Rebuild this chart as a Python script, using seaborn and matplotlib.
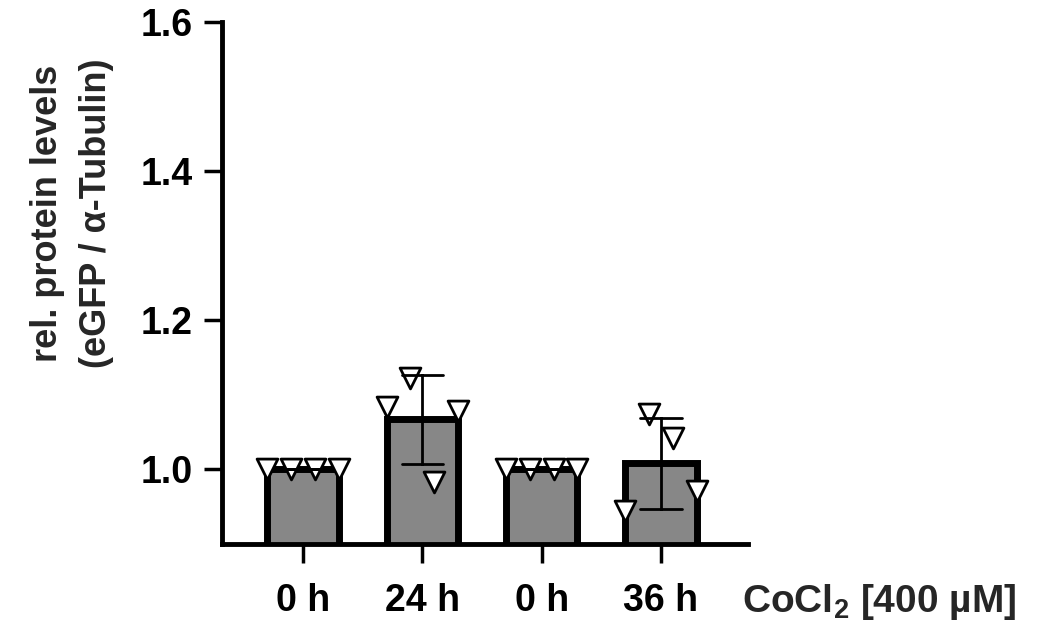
import pandas as pd
import matplotlib
matplotlib.use("Agg")
import matplotlib.pyplot as plt
import seaborn as sns

# group keys (two "0 h" controls, so keep keys unique) and what is printed under them
groups = ["ctrl_24", "cocl2_24", "ctrl_36", "cocl2_36"]
tick_labels = ["0 h", "24 h", "0 h", "36 h"]

# replicate values (normalised to 0 h), replicate 1..4 in order
replicates = [1, 2, 3, 4]
ctrl_24 = [1.0, 1.0, 1.0, 1.0]
cocl2_24 = [1.084, 1.122, 0.983, 1.079]
ctrl_36 = [1.0, 1.0, 1.0, 1.0]
cocl2_36 = [0.944, 1.075, 1.042, 0.971]

yticks = [1.0, 1.2, 1.4, 1.6]

df = pd.DataFrame({
    "group": [g for g in groups for _ in replicates],
    "replicate": replicates * len(groups),
    "value": ctrl_24 + cocl2_24 + ctrl_36 + cocl2_36,
})

sns.set_theme(style="ticks")
plt.rcParams["font.family"] = ["Liberation Sans", "DejaVu Sans"]
plt.rcParams["font.weight"] = "bold"
plt.rcParams["mathtext.fontset"] = "custom"
plt.rcParams["mathtext.bf"] = "Liberation Sans:bold"
plt.rcParams["mathtext.rm"] = "Liberation Sans:bold"
plt.rcParams["mathtext.default"] = "bf"

fig = plt.figure(figsize=(10.48, 6.24), dpi=100)
ax = fig.add_axes([222 / 1048, 1 - 544 / 624, 526 / 1048, 522 / 624])

sns.barplot(data=df, x="group", y="value", order=groups, errorbar="sd",
            color="#878787", saturation=1, edgecolor="black", linewidth=5,
            width=0.6, capsize=0.35,
            err_kws={"color": "black", "linewidth": 2, "zorder": 5}, ax=ax)
# replicates drawn side by side inside each bar
sns.stripplot(data=df, x="group", y="value", order=groups, hue="replicate",
              palette=["white"] * len(replicates), dodge=True, jitter=False,
              marker="v", edgecolor="black", linewidth=2, size=15,
              legend=False, zorder=4, ax=ax)

ax.set_xlim(-0.68, 3.73)
ax.set_ylim(0.9, 1.6)
ax.set_yticks(yticks)
ax.set_yticklabels([f"{t:.1f}" for t in yticks])
ax.set_xticks(range(len(groups)))
ax.set_xticklabels(tick_labels)
ax.set_xlabel("")
ax.set_ylabel("")

sns.despine(ax=ax)
for side in ["left", "bottom"]:
    ax.spines[side].set_linewidth(3.5)
    ax.spines[side].set_color("black")
ax.tick_params(axis="y", length=13, width=2.5, pad=8, labelsize=27, colors="black")
ax.tick_params(axis="x", length=14, width=2.5, pad=14, labelsize=27, colors="black")

ax.text(0.988, -0.073, r"CoCl$_2$ [400 µM]", transform=ax.transAxes,
        ha="left", va="top", fontsize=28, fontweight="bold")

fig.text(72 / 1048, 1 - 213 / 624, "rel. protein levels\n(eGFP / α-Tubulin)",
         rotation=90, ha="center", va="center", multialignment="center",
         fontsize=26, fontweight="bold", linespacing=1.55)

plt.savefig("out.png", dpi=100)
